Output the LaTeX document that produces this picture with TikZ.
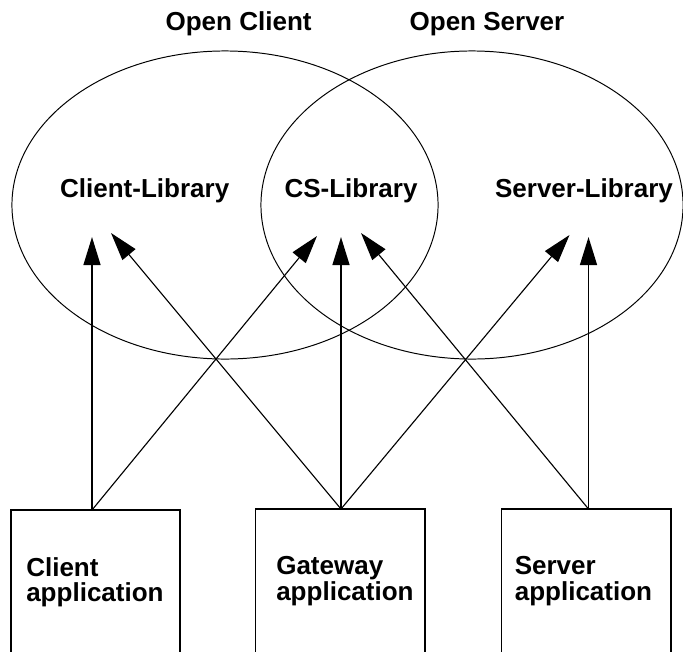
\documentclass[tikz,border=0pt]{standalone}
\usepackage{fontspec}
\setmainfont{Liberation Sans}
\usepackage{tikz}
\usetikzlibrary{arrows.meta,shapes.geometric,positioning}
\newcommand{\diagfont}{\bfseries\fontsize{18.5}{18.3}\selectfont}
\tikzstyle{realm} = [ellipse, draw, line width=0.7pt, inner sep=0pt, outer sep=0pt]
\tikzstyle{realmname} = [font=\diagfont, anchor=base, inner sep=0pt]
\tikzstyle{libname} = [font=\diagfont, anchor=base, inner sep=0pt]
\tikzstyle{appbox} = [rectangle, draw, line width=1.4pt, anchor=north west, outer sep=0pt, minimum width=4.225cm, minimum height=4cm]
\tikzstyle{apptext} = [font=\diagfont, align=left, anchor=north west, inner sep=0pt]
\tikzstyle{callarrow} = [line width=1.4pt, -{Triangle[length=20pt,width=12pt]}]
\tikzstyle{crossarrow} = [line width=0.8pt, -{Triangle[length=20pt,width=12pt]}]

\begin{document}
\begin{tikzpicture}[x=0.025cm, y=-0.025cm]
\useasboundingbox (0,0) rectangle (683,651);
% the two products
\node (openclient) [realm, minimum width=10.65cm, minimum height=7.7cm] at (225,205) {};
\node (openserver) [realm, minimum width=10.55cm, minimum height=7.7cm] at (472,205) {};
\node (clienttitle) [realmname] at (238.6,30) {Open Client};
\node (servertitle) [realmname] at (487,30) {Open Server};

% libraries
\node (clientlib) [libname] at (144.7,197) {Client-Library};
\node (cslib) [libname] at (351,197) {CS-Library};
\node (serverlib) [libname] at (584,197) {Server-Library};
\coordinate (clientlib-up) at (92,237);
\coordinate (clientlib-in) at (111,233);
\coordinate (cslib-left) at (317,236);
\coordinate (cslib-up) at (341,237);
\coordinate (cslib-right) at (361,233);
\coordinate (serverlib-in) at (569.5,235);
\coordinate (serverlib-up) at (588.5,237);

% applications
\node (clientapp) [appbox] at (11,510) {};
\node (gatewayapp) [appbox] at (255.5,509) {};
\node (serverapp) [appbox] at (501.5,509) {};
\node (clienttext) [apptext] at (26,557) {Client\\application};
\node (gatewaytext) [apptext] at (276,556) {Gateway\\application};
\node (servertext) [apptext] at (514.5,556) {Server\\application};
\coordinate (clientapp-top) at (clientapp.north -| clientlib-up);
\coordinate (gatewayapp-top) at (gatewayapp.north -| cslib-up);
\coordinate (serverapp-top) at (serverapp.north -| serverlib-up);

% calls
\draw [callarrow] (clientapp-top) -- (clientlib-up);
\draw [callarrow] (gatewayapp-top) -- (cslib-up);
\draw [callarrow] (serverapp-top) -- (serverlib-up);
\draw [crossarrow] (clientapp-top) -- (cslib-left);
\draw [crossarrow] (gatewayapp-top) -- (clientlib-in);
\draw [crossarrow] (gatewayapp-top) -- (serverlib-in);
\draw [crossarrow] (serverapp-top) -- (cslib-right);
\end{tikzpicture}
\end{document}
